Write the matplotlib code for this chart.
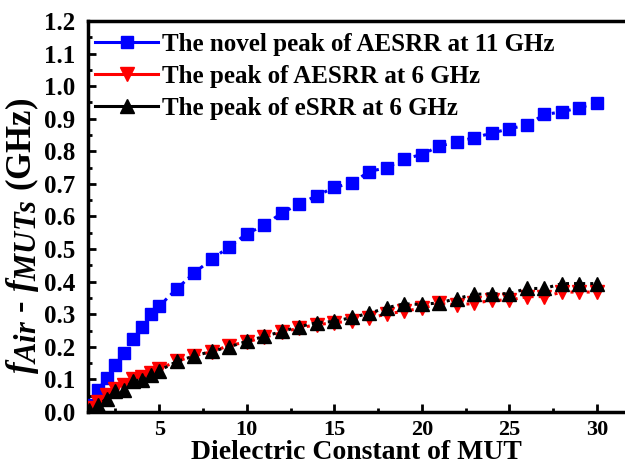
import matplotlib.pyplot as plt
import matplotlib._mathtext as mathtext_wew
from matplotlib.lines import Line2D
from matplotlib.ticker import MultipleLocator

plt.rcParams['font.family'] = 'Liberation Serif'
plt.rcParams['font.weight'] = 'bold'
plt.rcParams['axes.labelweight'] = 'bold'
plt.rcParams['mathtext.fontset'] = 'custom'
plt.rcParams['mathtext.it'] = 'Liberation Serif:italic:bold'
plt.rcParams['mathtext.rm'] = 'Liberation Serif:bold'
# indeksy dolne wieksze niz domyslnie (jak w oryginale)
mathtext_wew.SHRINK_FACTOR = 0.88

# Dielectric constant of MUT
eps = [1, 1.5, 2, 2.5, 3, 3.5, 4, 4.5, 5, 6, 7, 8, 9, 10, 11, 12, 13, 14, 15,
       16, 17, 18, 19, 20, 21, 22, 23, 24, 25, 26, 27, 28, 29, 30]

# novel peak AESRR 11 GHz
aesrr_11 = [0.02, 0.067, 0.105, 0.143, 0.182, 0.223, 0.26, 0.30, 0.325,
            0.378, 0.427, 0.469, 0.507, 0.547, 0.573, 0.611, 0.638, 0.664,
            0.689, 0.703, 0.738, 0.750, 0.777, 0.790, 0.816, 0.829, 0.842,
            0.856, 0.869, 0.881, 0.913, 0.921, 0.934, 0.948]

# peak AESRR 6 GHz
aesrr_6 = [0.012, 0.032, 0.052, 0.072, 0.082, 0.10, 0.107, 0.12, 0.132,
           0.156, 0.172, 0.185, 0.204, 0.215, 0.229, 0.244, 0.258, 0.268,
           0.274, 0.279, 0.289, 0.30, 0.31, 0.318, 0.333, 0.329, 0.333,
           0.343, 0.343, 0.354, 0.354, 0.368, 0.368, 0.368]

# peak eSRR 6 GHz
esrr_6 = [0.005, 0.022, 0.04, 0.065, 0.068, 0.096, 0.098, 0.113, 0.127,
          0.155, 0.172, 0.186, 0.20, 0.217, 0.232, 0.247, 0.262, 0.274,
          0.278, 0.29, 0.303, 0.32, 0.332, 0.330, 0.335, 0.348, 0.361,
          0.363, 0.363, 0.379, 0.379, 0.394, 0.394, 0.394]

etykiety = ['The novel peak of AESRR at 11 GHz',
            'The peak of AESRR at 6 GHz',
            'The peak of eSRR at 6 GHz']

fig = plt.figure(figsize=(6.25, 4.68), dpi=100)
ax = fig.add_axes([0.1408, 0.1197, 0.8592, 0.8355])

ax.plot(eps, aesrr_11, color='#0000FF', linestyle=':', linewidth=2.2,
        marker='s', markersize=9, zorder=3)
ax.plot(eps, aesrr_6, color='#FF0000', linestyle=':', linewidth=2.2,
        marker='v', markersize=10, zorder=4)
ax.plot(eps, esrr_6, color='black', linestyle=':', linewidth=2.2,
        marker='^', markersize=10, zorder=5)

uchwyty = [Line2D([], [], color='#0000FF', lw=2.2, marker='s', ms=9),
           Line2D([], [], color='#FF0000', lw=2.2, marker='v', ms=10),
           Line2D([], [], color='black', lw=2.2, marker='^', ms=10)]
ax.legend(uchwyty, etykiety, loc='upper left', bbox_to_anchor=(-0.005, 0.995),
          frameon=False, fontsize=18, handlelength=2.5, handletextpad=0.15,
          labelspacing=0.36, borderaxespad=0, numpoints=1)

ax.set_xlim(0.93, 31.6)
ax.set_ylim(0, 1.2)
ax.xaxis.set_major_locator(MultipleLocator(5))
ax.xaxis.set_minor_locator(MultipleLocator(2.5))
ax.yaxis.set_major_locator(MultipleLocator(0.1))
ax.yaxis.set_minor_locator(MultipleLocator(0.05))
ax.tick_params(which='both', direction='in', width=2)
ax.tick_params(which='major', length=6)
ax.tick_params(which='minor', length=3)
ax.tick_params(axis='x', pad=6, labelsize=16)
ax.tick_params(axis='y', pad=9, labelsize=18)
ax.set_xticks([5, 10, 15, 20, 25, 30])
ax.set_yticks([i / 10 for i in range(13)])
ax.set_yticklabels([f'{i / 10:.1f}' for i in range(13)])

for s in ['left', 'bottom', 'top']:
    ax.spines[s].set_linewidth(2.5)
ax.spines['right'].set_visible(False)

ax.set_xlabel('Dielectric Constant of MUT', fontsize=20, labelpad=0)
ax.set_ylabel(r'$f_{Air}$ - $f_{MUTs}$ (GHz)', fontsize=25)
ax.yaxis.set_label_coords(-0.088, 0.45)

fig.savefig('out.png', dpi=100)
